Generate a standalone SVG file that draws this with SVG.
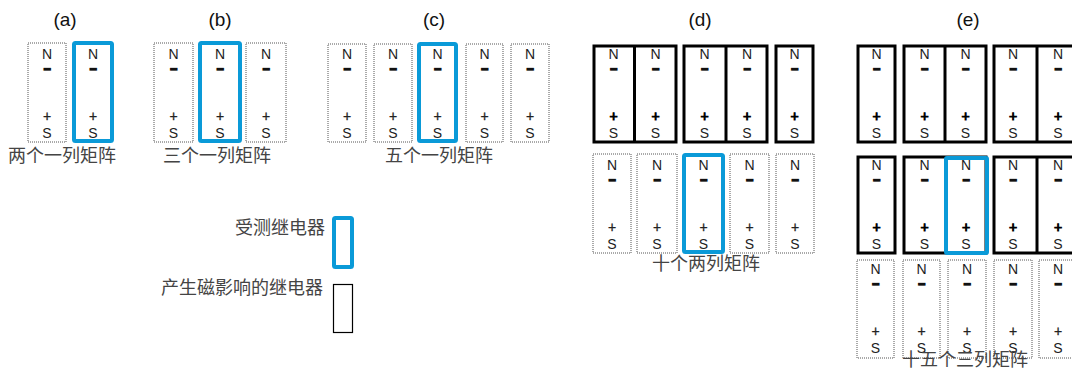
<svg xmlns="http://www.w3.org/2000/svg" width="1072" height="368" viewBox="0 0 1072 368">
<style>
.dot{fill:#fff;stroke:#555;stroke-width:1;stroke-dasharray:1 1}
.blk{fill:#fff;stroke:#000;stroke-width:3}
.blu{fill:none;stroke:#0a9ad8;stroke-width:4}
.p{font-family:"Liberation Sans",Arial,sans-serif;font-size:14px;fill:#222;text-anchor:middle}
.mm{font-size:12px;font-weight:bold;stroke:#111;stroke-width:1.5;fill:#111}
.pp{font-size:14px;stroke:#222;stroke-width:0.3}
.bb{stroke:#000;stroke-width:0.9;fill:#000}
.t{font-family:"Liberation Sans",Arial,sans-serif;font-size:19px;fill:#111;text-anchor:middle}
.c{font-family:"Liberation Sans","Noto Sans CJK SC",sans-serif;font-size:18px;fill:#444}
</style>
<rect width="1072" height="368" fill="#fff"/>
<g id="titles">
<text class="t" x="65" y="26">(a)</text>
<text class="t" x="220" y="26">(b)</text>
<text class="t" x="434" y="26">(c)</text>
<text class="t" x="700" y="26">(d)</text>
<text class="t" x="968" y="26">(e)</text>
</g>
<g id="a">
<rect class="dot" x="28" y="43" width="38" height="99"/>
<text class="p"><tspan x="47" y="59">N</tspan><tspan class="mm" x="47" y="73">−</tspan><tspan class="pp" x="47" y="121">+</tspan><tspan x="47" y="137.5">S</tspan></text>
<rect class="blu" x="74" y="43" width="38" height="98" rx="1.5"/>
<text class="p"><tspan x="93" y="59">N</tspan><tspan class="mm" x="93" y="73">−</tspan><tspan class="pp" x="93" y="121">+</tspan><tspan x="93" y="137.5">S</tspan></text>
<text class="c" x="8" y="162">两个一列矩阵</text>
</g>
<g id="b">
<rect class="dot" x="154" y="43" width="39" height="99"/>
<text class="p"><tspan x="173.5" y="59">N</tspan><tspan class="mm" x="173.5" y="73">−</tspan><tspan class="pp" x="173.5" y="121">+</tspan><tspan x="173.5" y="137.5">S</tspan></text>
<rect class="blu" x="200" y="43" width="40" height="98" rx="1.5"/>
<text class="p"><tspan x="220" y="59">N</tspan><tspan class="mm" x="220" y="73">−</tspan><tspan class="pp" x="220" y="121">+</tspan><tspan x="220" y="137.5">S</tspan></text>
<rect class="dot" x="246" y="43" width="40" height="99"/>
<text class="p"><tspan x="266" y="59">N</tspan><tspan class="mm" x="266" y="73">−</tspan><tspan class="pp" x="266" y="121">+</tspan><tspan x="266" y="137.5">S</tspan></text>
<text class="c" x="163" y="162">三个一列矩阵</text>
</g>
<g id="c">
<rect class="dot" x="328" y="44" width="38" height="98"/>
<text class="p"><tspan x="347" y="59">N</tspan><tspan class="mm" x="347" y="73">−</tspan><tspan class="pp" x="347" y="121">+</tspan><tspan x="347" y="137.5">S</tspan></text>
<rect class="dot" x="374" y="44" width="38" height="98"/>
<text class="p"><tspan x="393" y="59">N</tspan><tspan class="mm" x="393" y="73">−</tspan><tspan class="pp" x="393" y="121">+</tspan><tspan x="393" y="137.5">S</tspan></text>
<rect class="blu" x="419" y="44" width="37" height="97" rx="1.5"/>
<text class="p"><tspan x="437.5" y="59">N</tspan><tspan class="mm" x="437.5" y="73">−</tspan><tspan class="pp" x="437.5" y="121">+</tspan><tspan x="437.5" y="137.5">S</tspan></text>
<rect class="dot" x="466" y="44" width="37" height="98"/>
<text class="p"><tspan x="484.5" y="59">N</tspan><tspan class="mm" x="484.5" y="73">−</tspan><tspan class="pp" x="484.5" y="121">+</tspan><tspan x="484.5" y="137.5">S</tspan></text>
<rect class="dot" x="511" y="44" width="38" height="98"/>
<text class="p"><tspan x="530" y="59">N</tspan><tspan class="mm" x="530" y="73">−</tspan><tspan class="pp" x="530" y="121">+</tspan><tspan x="530" y="137.5">S</tspan></text>
<text class="c" x="385" y="162">五个一列矩阵</text>
</g>
<g id="d">
<rect class="blk" x="594" y="46" width="82" height="96"/><line x1="634.5" y1="46" x2="634.5" y2="142" stroke="#000" stroke-width="3"/>
<rect class="blk" x="684" y="46" width="83" height="96"/><line x1="726" y1="46" x2="726" y2="142" stroke="#000" stroke-width="3"/>
<rect class="blk" x="776" y="46" width="37" height="96"/>
<text class="p"><tspan x="613.5" y="59">N</tspan><tspan class="mm" x="613.5" y="73">−</tspan><tspan class="pp bb" x="613.5" y="121">+</tspan><tspan x="613.5" y="137.5">S</tspan></text>
<text class="p"><tspan x="655.5" y="59">N</tspan><tspan class="mm" x="655.5" y="73">−</tspan><tspan class="pp bb" x="655.5" y="121">+</tspan><tspan x="655.5" y="137.5">S</tspan></text>
<text class="p"><tspan x="704.5" y="59">N</tspan><tspan class="mm" x="704.5" y="73">−</tspan><tspan class="pp bb" x="704.5" y="121">+</tspan><tspan x="704.5" y="137.5">S</tspan></text>
<text class="p"><tspan x="747" y="59">N</tspan><tspan class="mm" x="747" y="73">−</tspan><tspan class="pp bb" x="747" y="121">+</tspan><tspan x="747" y="137.5">S</tspan></text>
<text class="p"><tspan x="794.5" y="59">N</tspan><tspan class="mm" x="794.5" y="73">−</tspan><tspan class="pp bb" x="794.5" y="121">+</tspan><tspan x="794.5" y="137.5">S</tspan></text>
<rect class="dot" x="593" y="154" width="38" height="99"/>
<text class="p"><tspan x="612" y="170">N</tspan><tspan class="mm" x="612" y="184">−</tspan><tspan class="pp" x="612" y="232">+</tspan><tspan x="612" y="248.5">S</tspan></text>
<rect class="dot" x="637" y="154" width="40" height="99"/>
<text class="p"><tspan x="657" y="170">N</tspan><tspan class="mm" x="657" y="184">−</tspan><tspan class="pp" x="657" y="232">+</tspan><tspan x="657" y="248.5">S</tspan></text>
<rect class="blu" x="684" y="155" width="39" height="97" rx="1.5"/>
<text class="p"><tspan x="703.5" y="170">N</tspan><tspan class="mm" x="703.5" y="184">−</tspan><tspan class="pp" x="703.5" y="232">+</tspan><tspan x="703.5" y="248.5">S</tspan></text>
<rect class="dot" x="730" y="154" width="39" height="99"/>
<text class="p"><tspan x="749.5" y="170">N</tspan><tspan class="mm" x="749.5" y="184">−</tspan><tspan class="pp" x="749.5" y="232">+</tspan><tspan x="749.5" y="248.5">S</tspan></text>
<rect class="dot" x="776" y="154" width="38" height="99"/>
<text class="p"><tspan x="795" y="170">N</tspan><tspan class="mm" x="795" y="184">−</tspan><tspan class="pp" x="795" y="232">+</tspan><tspan x="795" y="248.5">S</tspan></text>
<text class="c" x="652" y="270">十个两列矩阵</text>
</g>
<g id="e">
<rect class="blk" x="858" y="46" width="37" height="96"/>
<rect class="blk" x="904" y="46" width="82" height="96"/><line x1="945" y1="46" x2="945" y2="142" stroke="#000" stroke-width="3"/>
<rect class="blk" x="994" y="46" width="90" height="96"/><line x1="1037" y1="46" x2="1037" y2="142" stroke="#000" stroke-width="3"/>
<text class="p"><tspan x="876.5" y="59">N</tspan><tspan class="mm" x="876.5" y="73">−</tspan><tspan class="pp bb" x="876.5" y="121">+</tspan><tspan x="876.5" y="137.5">S</tspan></text>
<text class="p"><tspan x="924.5" y="59">N</tspan><tspan class="mm" x="924.5" y="73">−</tspan><tspan class="pp bb" x="924.5" y="121">+</tspan><tspan x="924.5" y="137.5">S</tspan></text>
<text class="p"><tspan x="965.5" y="59">N</tspan><tspan class="mm" x="965.5" y="73">−</tspan><tspan class="pp bb" x="965.5" y="121">+</tspan><tspan x="965.5" y="137.5">S</tspan></text>
<text class="p"><tspan x="1013" y="59">N</tspan><tspan class="mm" x="1013" y="73">−</tspan><tspan class="pp bb" x="1013" y="121">+</tspan><tspan x="1013" y="137.5">S</tspan></text>
<text class="p"><tspan x="1058" y="59">N</tspan><tspan class="mm" x="1058" y="73">−</tspan><tspan class="pp bb" x="1058" y="121">+</tspan><tspan x="1058" y="137.5">S</tspan></text>
<rect class="blk" x="858" y="157" width="37" height="96"/>
<rect class="blk" x="904" y="157" width="82" height="96"/>
<rect class="blk" x="994" y="157" width="90" height="96"/><line x1="1037" y1="157" x2="1037" y2="253" stroke="#000" stroke-width="3"/>
<rect class="blu" x="946" y="158" width="41" height="95" rx="1"/>
<text class="p"><tspan x="876.5" y="170">N</tspan><tspan class="mm" x="876.5" y="184">−</tspan><tspan class="pp bb" x="876.5" y="232">+</tspan><tspan x="876.5" y="248.5">S</tspan></text>
<text class="p"><tspan x="924.5" y="170">N</tspan><tspan class="mm" x="924.5" y="184">−</tspan><tspan class="pp bb" x="924.5" y="232">+</tspan><tspan x="924.5" y="248.5">S</tspan></text>
<text class="p"><tspan x="966" y="170">N</tspan><tspan class="mm" x="966" y="184">−</tspan><tspan class="pp bb" x="966" y="232">+</tspan><tspan x="966" y="248.5">S</tspan></text>
<text class="p"><tspan x="1013" y="170">N</tspan><tspan class="mm" x="1013" y="184">−</tspan><tspan class="pp bb" x="1013" y="232">+</tspan><tspan x="1013" y="248.5">S</tspan></text>
<text class="p"><tspan x="1058" y="170">N</tspan><tspan class="mm" x="1058" y="184">−</tspan><tspan class="pp bb" x="1058" y="232">+</tspan><tspan x="1058" y="248.5">S</tspan></text>
<rect class="dot" x="857" y="260" width="37" height="98"/>
<rect class="dot" x="903" y="260" width="37" height="98"/>
<rect class="dot" x="948" y="260" width="38" height="98"/>
<rect class="dot" x="994" y="260" width="38" height="98"/>
<rect class="dot" x="1039" y="260" width="45" height="98"/>
<text class="p"><tspan x="875.5" y="274">N</tspan><tspan class="mm" x="875.5" y="288">−</tspan><tspan class="pp" x="875.5" y="336">+</tspan><tspan x="875.5" y="352.5">S</tspan></text>
<text class="p"><tspan x="921.5" y="274">N</tspan><tspan class="mm" x="921.5" y="288">−</tspan><tspan class="pp" x="921.5" y="336">+</tspan><tspan x="921.5" y="352.5">S</tspan></text>
<text class="p"><tspan x="967" y="274">N</tspan><tspan class="mm" x="967" y="288">−</tspan><tspan class="pp" x="967" y="336">+</tspan><tspan x="967" y="352.5">S</tspan></text>
<text class="p"><tspan x="1013" y="274">N</tspan><tspan class="mm" x="1013" y="288">−</tspan><tspan class="pp" x="1013" y="336">+</tspan><tspan x="1013" y="352.5">S</tspan></text>
<text class="p"><tspan x="1058" y="274">N</tspan><tspan class="mm" x="1058" y="288">−</tspan><tspan class="pp" x="1058" y="336">+</tspan><tspan x="1058" y="352.5">S</tspan></text>
<text class="c" x="902" y="366">十五个三列矩阵</text>
</g>
<g id="legend">
<text class="c" x="325" y="234" text-anchor="end">受测继电器</text>
<rect class="blu" x="334" y="218" width="18" height="49" rx="1.5"/>
<text class="c" x="323" y="294" text-anchor="end">产生磁影响的继电器</text>
<rect x="333.5" y="284.5" width="19" height="48" fill="#fff" stroke="#000" stroke-width="1.2"/>
</g>
<g id="connectors"/>
</svg>
